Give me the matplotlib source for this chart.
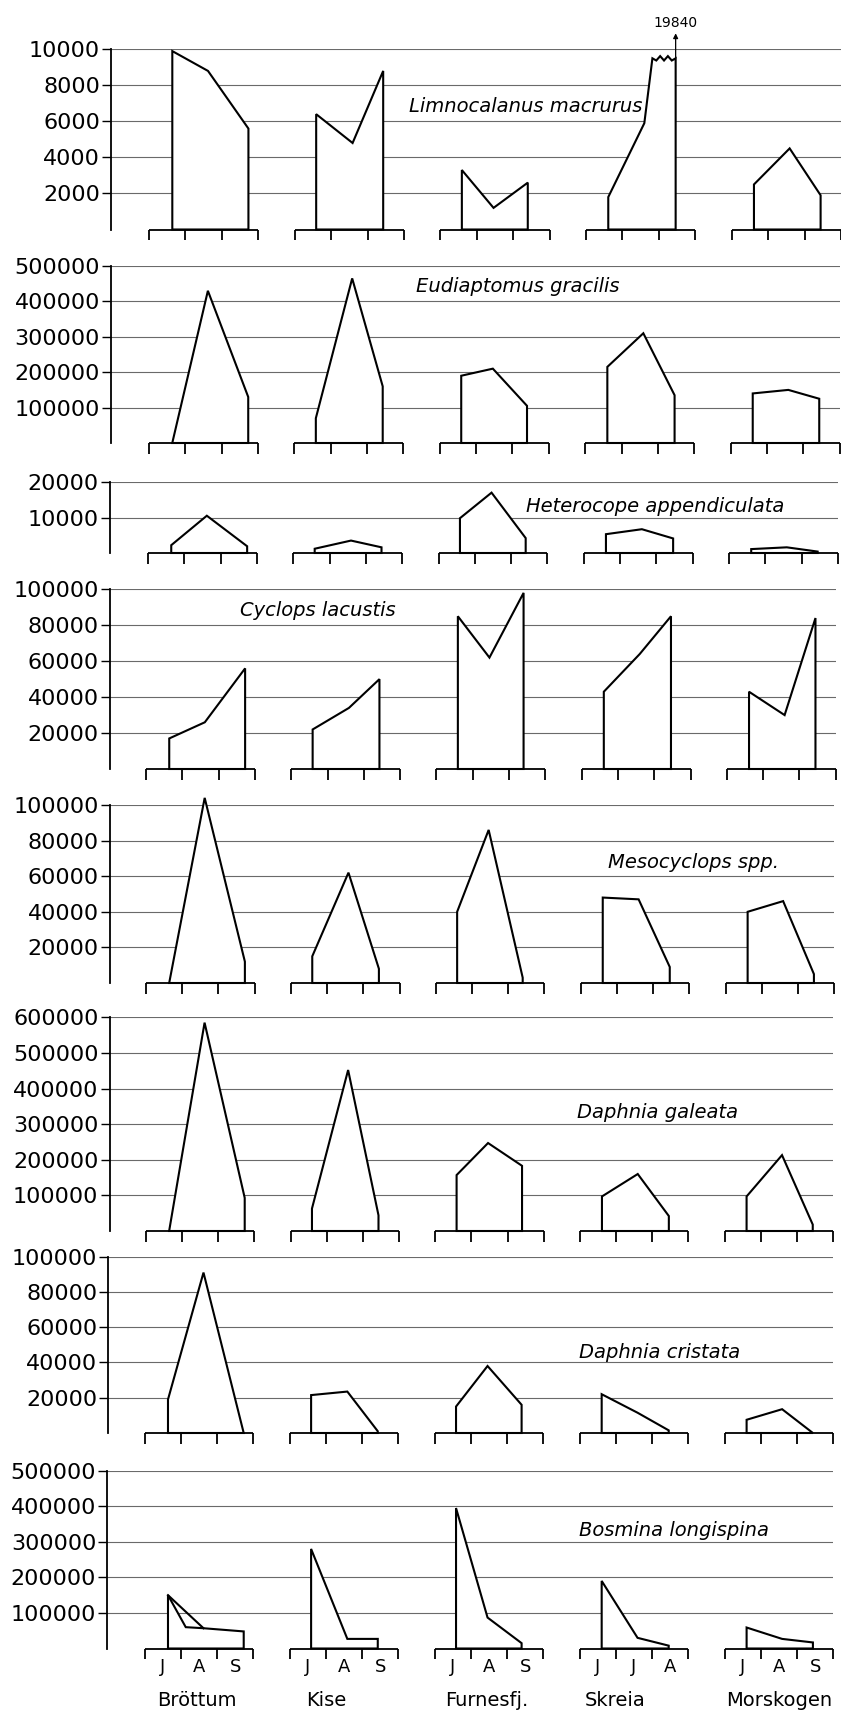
import numpy as np
import matplotlib
matplotlib.use("Agg")
import matplotlib.pyplot as plt

plt.rcParams["font.family"] = ["DejaVu Sans"]

# ---------------- data ----------------
lakes = ["Bröttum", "Kise", "Furnesfj.", "Skreia", "Morskogen"]
month_labels = [["J", "A", "S"], ["J", "A", "S"], ["J", "A", "S"],
                ["J", "J", "A"], ["J", "A", "S"]]
# sampling dates: months after the start of each lake's three-month window
sample_months = [[0.64, 1.62, 2.73],
                 [0.59, 1.59, 2.43],
                 [0.59, 1.46, 2.40],
                 [0.61, 1.60, 2.46],
                 [0.61, 1.59, 2.44]]

species = ["Limnocalanus macrurus", "Eudiaptomus gracilis",
           "Heterocope appendiculata", "Cyclops lacustis",
           "Mesocyclops spp.", "Daphnia galeata", "Daphnia cristata",
           "Bosmina longispina"]

ticks_limnocalanus = [2000, 4000, 6000, 8000, 10000]
ticks_eudiaptomus = [100000, 200000, 300000, 400000, 500000]
ticks_heterocope = [10000, 20000]
ticks_cyclops = [20000, 40000, 60000, 80000, 100000]
ticks_mesocyclops = [20000, 40000, 60000, 80000, 100000]
ticks_galeata = [100000, 200000, 300000, 400000, 500000, 600000]
ticks_cristata = [20000, 40000, 60000, 80000, 100000]
ticks_bosmina = [100000, 200000, 300000, 400000, 500000]

# individuals per lake (rows: lakes, columns: sampling dates)
limnocalanus = [[9900, 8800, 5600], [6400, 4800, 8800], [3300, 1200, 2600],
                [1800, 5900, 19840], [2500, 4500, 1900]]
eudiaptomus = [[0, 430000, 130000], [70000, 465000, 160000],
               [190000, 210000, 105000], [215000, 310000, 135000],
               [140000, 150000, 125000]]
heterocope = [[2200, 10500, 1900], [1200, 3500, 1600], [9800, 17000, 4200],
              [5300, 6700, 4100], [1100, 1600, 400]]
cyclops = [[17000, 26000, 56000], [22000, 34000, 50000],
           [85000, 62000, 98000], [43000, 64000, 85000],
           [43000, 30000, 84000]]
mesocyclops = [[0, 104000, 12000], [15000, 62000, 8000],
               [40000, 86000, 3000], [48000, 47000, 9000],
               [40000, 46000, 5000]]
galeata = [[0, 585000, 93000], [63000, 452000, 44000],
           [157000, 247000, 183000], [97000, 160000, 42000],
           [97000, 213000, 18000]]
cristata = [[19000, 91000, 0], [21500, 23500, 1000], [15000, 38000, 16000],
            [22000, 11500, 1500], [7500, 13500, 0]]
bosmina = [[150000, 57000, 48000], [280000, 27000, 27000],
           [395000, 87000, 15000], [190000, 30000, 8000],
           [59000, 27000, 17000]]
# Bosmina in Bröttum: additional vertex between the first two dates
bosmina_brottum_extra_month = 1.13
bosmina_brottum_extra_value = 60000

panel_values = [limnocalanus, eudiaptomus, heterocope, cyclops, mesocyclops,
                galeata, cristata, bosmina]
panel_ticks = [ticks_limnocalanus, ticks_eudiaptomus, ticks_heterocope,
               ticks_cyclops, ticks_mesocyclops, ticks_galeata,
               ticks_cristata, ticks_bosmina]

# ---------------- layout (pixels) ----------------
W, H = 841, 1718
LAKE_STEP = 4
N_UNITS = LAKE_STEP * 4 + 3
TICK_PX = 10.5
panel_top_px = [49.3, 266, 482, 589.3, 805, 1017.3, 1256.7, 1470.7]
panel_base_px = [229.5, 443, 553, 769, 983, 1231, 1433, 1648.5]
panel_spine_px = [111, 111, 110, 110, 110, 109.5, 108.3, 107.3]
panel_first_px = [149, 149, 148, 146, 146, 146, 144.8, 144.8]
panel_last_px = [841, 839.6, 838, 835.8, 834.2, 833, 833.2, 833.2]
label_pos_px = [(409, 107), (416, 287), (526, 506), (240, 610), (608, 863),
                (577, 1112), (579, 1352), (579, 1530)]
month_label_y_px = 1667
lake_label_y_px = 1701
lake_label_center = [1.45, 1.0, 1.43, 0.97, 1.52]

LW_POLY = 1.5
LW_AXIS = 1.3
GRID_COLOR = "#6a6a6a"

fig = plt.figure(figsize=(W / 100, H / 100), dpi=100)

for p, (vals, ticks) in enumerate(zip(panel_values, panel_ticks)):
    top = ticks[-1]
    tpx, bpx = panel_top_px[p], panel_base_px[p]
    spx, fpx, rpx = panel_spine_px[p], panel_first_px[p], panel_last_px[p]
    month_px = (rpx - fpx) / N_UNITS
    ppu = (bpx - tpx) / top
    ylow = -TICK_PX / ppu
    ax = fig.add_axes([spx / W, 1 - (bpx + TICK_PX) / H,
                       (rpx - spx) / W, (bpx + TICK_PX - tpx) / H])
    ax.set_xlim((spx - fpx) / month_px, N_UNITS)
    ax.set_ylim(ylow, top)
    ax.patch.set_alpha(0)
    for s in ["top", "right", "bottom"]:
        ax.spines[s].set_visible(False)
    ax.spines["left"].set_bounds(0, top)
    ax.spines["left"].set_linewidth(LW_AXIS)
    ax.set_xticks([])
    ax.set_yticks(ticks)
    ax.set_yticklabels([str(t) for t in ticks])
    ax.tick_params(axis="y", length=6.5, width=1.0, pad=1.5, labelsize=16)
    ax.yaxis.grid(True, color=GRID_COLOR, lw=0.8)
    ax.set_axisbelow(True)

    for i, lake_vals in enumerate(vals):
        off = LAKE_STEP * i
        xs = [off + m for m in sample_months[i]]
        vs = list(lake_vals)
        if p == 7 and i == 0:
            xs = xs[:1] + [off + bosmina_brottum_extra_month] + xs[1:]
            vs = vs[:1] + [bosmina_brottum_extra_value] + vs[1:]
        broken = None
        if max(vs) > 1.5 * top:
            cap = 0.95 * top
            k = int(np.argmax(vs))
            xc = xs[k - 1] + (cap - vs[k - 1]) / (vs[k] - vs[k - 1]) * (xs[k] - xs[k - 1])
            n_teeth = 7
            zx = np.linspace(xc, xs[k], n_teeth)
            amp = 2.2 / ppu
            zy = cap + amp * np.array([(-1) ** j for j in range(n_teeth)])
            zy[0] = cap
            zy[-1] = cap
            px = [xs[0]] + xs[:k] + list(zx) + [xs[k]]
            py = [0] + vs[:k] + list(zy) + [0]
            broken = (xs[k], vs[k], cap)
        else:
            px = [xs[0]] + xs + [xs[-1]]
            py = [0] + vs + [0]
        ax.fill(px, py, facecolor="white", edgecolor="black", lw=LW_POLY,
                joinstyle="miter", zorder=3, clip_on=False)
        if p == 7 and i == 0:
            ax.plot([xs[0], xs[2]], [vs[0], vs[2]], color="black",
                    lw=LW_POLY, zorder=4, clip_on=False)
        if broken is not None:
            xk, vk, cap = broken
            ax.annotate("", xy=(xk, top + 16 / ppu), xytext=(xk, cap),
                        arrowprops=dict(arrowstyle="-|>", lw=0.9,
                                        color="black", mutation_scale=7,
                                        shrinkA=0, shrinkB=0),
                        annotation_clip=False, zorder=5)
            ax.text(xk, top + 26 / ppu, f"{vk:.0f}", ha="center",
                    va="center", fontsize=10, clip_on=False)
        # lake bracket (month axis)
        ax.plot([off, off + 3], [0, 0], color="black", lw=LW_AXIS,
                zorder=5, clip_on=False, solid_capstyle="butt")
        ax.vlines([off + j for j in range(4)], ylow, 0, color="black",
                  lw=LW_AXIS, zorder=5, clip_on=False)
        if p == len(panel_values) - 1:
            ym = -(month_label_y_px - bpx) / ppu
            for j, ml in enumerate(month_labels[i]):
                ax.text(off + j + 0.5, ym, ml, ha="center", va="center",
                        fontsize=13, clip_on=False)
            yl = -(lake_label_y_px - bpx) / ppu
            ax.text(off + lake_label_center[i], yl, lakes[i], ha="center",
                    va="center", fontsize=14, clip_on=False)

    lx, ly = label_pos_px[p]
    fig.text(lx / W, 1 - ly / H, species[p], ha="left", va="center",
             fontsize=14, style="italic")

fig.savefig("out.png", dpi=100, facecolor="white")
